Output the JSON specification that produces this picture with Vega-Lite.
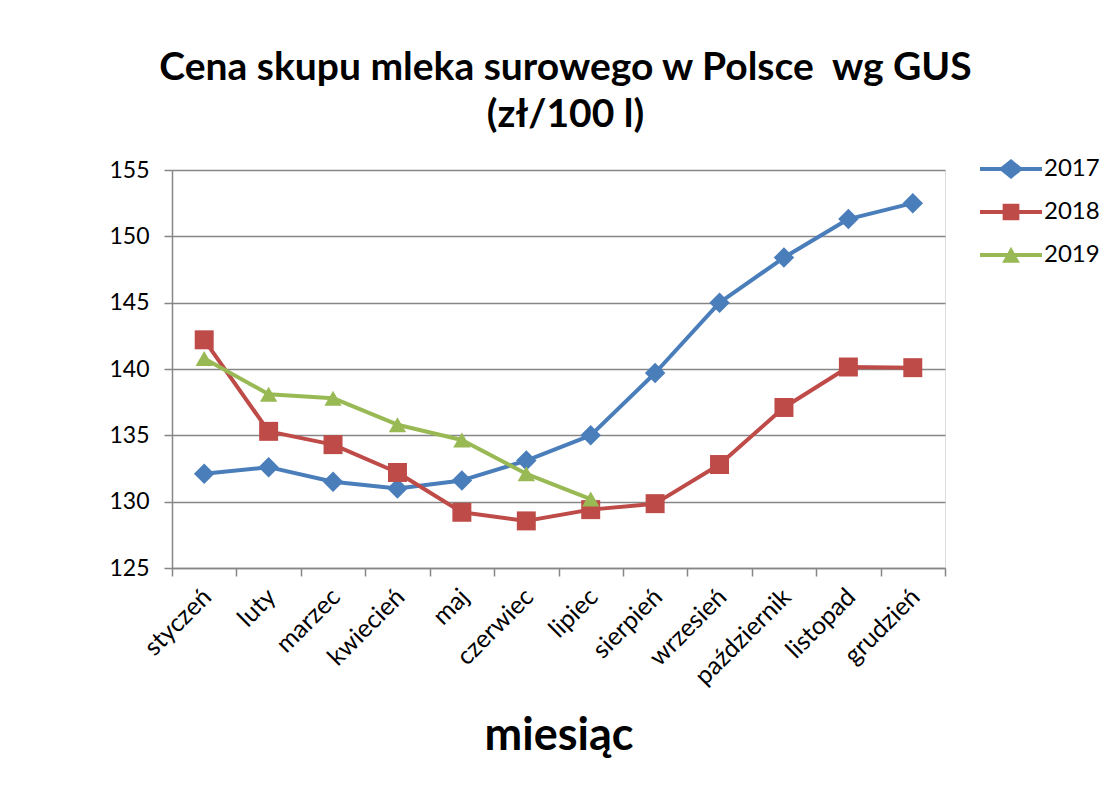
{
  "$schema": "https://vega.github.io/schema/vega-lite/v6.json",
  "autosize": {"type": "none"},
  "width": 773,
  "height": 398,
  "padding": {"left": 172, "top": 170, "right": 169, "bottom": 217},
  "background": "white",
  "title": {
    "text": ["Cena skupu mleka surowego w Polsce\u00a0 wg GUS", "(zł/100 l)"],
    "font": "Lato",
    "fontSize": 39,
    "fontWeight": "bold",
    "color": "black",
    "lineHeight": 47,
    "anchor": "middle",
    "dx": 7,
    "offset": 3
  },
  "data": {
    "values": [
      {"miesiac": "styczeń", "rok": "2017", "cena": 132.1},
      {"miesiac": "luty", "rok": "2017", "cena": 132.6},
      {"miesiac": "marzec", "rok": "2017", "cena": 131.5},
      {"miesiac": "kwiecień", "rok": "2017", "cena": 131.0},
      {"miesiac": "maj", "rok": "2017", "cena": 131.6},
      {"miesiac": "czerwiec", "rok": "2017", "cena": 133.1},
      {"miesiac": "lipiec", "rok": "2017", "cena": 135.0},
      {"miesiac": "sierpień", "rok": "2017", "cena": 139.7},
      {"miesiac": "wrzesień", "rok": "2017", "cena": 145.0},
      {"miesiac": "październik", "rok": "2017", "cena": 148.4},
      {"miesiac": "listopad", "rok": "2017", "cena": 151.3},
      {"miesiac": "grudzień", "rok": "2017", "cena": 152.5},
      {"miesiac": "styczeń", "rok": "2018", "cena": 142.2},
      {"miesiac": "luty", "rok": "2018", "cena": 135.3},
      {"miesiac": "marzec", "rok": "2018", "cena": 134.3},
      {"miesiac": "kwiecień", "rok": "2018", "cena": 132.2},
      {"miesiac": "maj", "rok": "2018", "cena": 129.2},
      {"miesiac": "czerwiec", "rok": "2018", "cena": 128.55},
      {"miesiac": "lipiec", "rok": "2018", "cena": 129.4},
      {"miesiac": "sierpień", "rok": "2018", "cena": 129.85},
      {"miesiac": "wrzesień", "rok": "2018", "cena": 132.8},
      {"miesiac": "październik", "rok": "2018", "cena": 137.1},
      {"miesiac": "listopad", "rok": "2018", "cena": 140.15},
      {"miesiac": "grudzień", "rok": "2018", "cena": 140.1},
      {"miesiac": "styczeń", "rok": "2019", "cena": 140.8},
      {"miesiac": "luty", "rok": "2019", "cena": 138.1},
      {"miesiac": "marzec", "rok": "2019", "cena": 137.8},
      {"miesiac": "kwiecień", "rok": "2019", "cena": 135.8},
      {"miesiac": "maj", "rok": "2019", "cena": 134.65},
      {"miesiac": "czerwiec", "rok": "2019", "cena": 132.1},
      {"miesiac": "lipiec", "rok": "2019", "cena": 130.2}
    ]
  },
  "encoding": {
    "x": {
      "field": "miesiac",
      "type": "ordinal",
      "sort": ["styczeń", "luty", "marzec", "kwiecień", "maj", "czerwiec", "lipiec", "sierpień", "wrzesień", "październik", "listopad", "grudzień"],
      "scale": {"type": "band", "paddingInner": 0, "paddingOuter": 0},
      "bandPosition": 0.5,
      "axis": {
        "title": "miesiąc",
        "titleFont": "Lato",
        "titleFontSize": 45,
        "titleFontWeight": "bold",
        "titleColor": "black",
        "titlePadding": 24,
        "labelAngle": -45,
        "labelAlign": "right",
        "labelBaseline": "top",
        "labelFont": "Lato",
        "labelFontSize": 25,
        "labelColor": "black",
        "labelPadding": 8,
        "labelOffset": -6,
        "tickBand": "extent",
        "tickSize": 8,
        "tickColor": "#868686",
        "tickWidth": 1.5,
        "domainColor": "#868686",
        "domainWidth": 1.5,
        "grid": false
      }
    },
    "y": {
      "field": "cena",
      "type": "quantitative",
      "scale": {"domain": [125, 155], "nice": false, "zero": false},
      "axis": {
        "title": null,
        "values": [125, 130, 135, 140, 145, 150, 155],
        "labelFont": "Lato",
        "labelFontSize": 23,
        "labelColor": "black",
        "labelPadding": 15,
        "tickSize": 8,
        "tickColor": "#868686",
        "tickWidth": 1.5,
        "domainColor": "#868686",
        "domainWidth": 1.5,
        "grid": true,
        "gridColor": "#868686",
        "gridWidth": 1.5
      }
    },
    "color": {
      "field": "rok",
      "type": "nominal",
      "scale": {"domain": ["2017", "2018", "2019"], "range": ["#4A7EBB", "#BE4B48", "#98B954"]},
      "legend": {
        "title": null,
        "orient": "none",
        "legendX": 808,
        "legendY": -32,
        "labelFont": "Lato",
        "labelFontSize": 24,
        "labelColor": "black",
        "labelOffset": 2,
        "symbolSize": 3844,
        "rowPadding": -3,
        "encode": {
          "symbols": {
            "update": {
              "shape": {"signal": "datum.value === '2017' ? 'M-1,-0.065H-0.32L0,-0.32L0.32,-0.065H1V0.065H0.32L0,0.32L-0.32,0.065H-1Z' : datum.value === '2018' ? 'M-1,-0.065H-0.27V-0.27H0.27V-0.065H1V0.065H0.27V0.27H-0.27V0.065H-1Z' : 'M-1,-0.065H-0.11L0,-0.27L0.11,-0.065H1V0.065H0.18L0.29,0.25H-0.29L-0.18,0.065H-1Z'"},
              "fill": {"scale": "color", "field": "value"},
              "fillOpacity": {"value": 1},
              "strokeWidth": {"value": 0}
            }
          }
        }
      }
    }
  },
  "layer": [
    {
      "mark": {"type": "line", "strokeWidth": 4, "strokeJoin": "round"},
      "encoding": {"detail": {"field": "rok"}}
    },
    {
      "mark": {"type": "point", "filled": true, "opacity": 1},
      "encoding": {
        "shape": {
          "field": "rok",
          "type": "nominal",
          "scale": {"range": ["diamond", "square", "triangle-up"]},
          "legend": null
        },
        "size": {
          "field": "rok",
          "type": "nominal",
          "scale": {"range": [420, 300, 330]},
          "legend": null
        }
      }
    }
  ]
}
